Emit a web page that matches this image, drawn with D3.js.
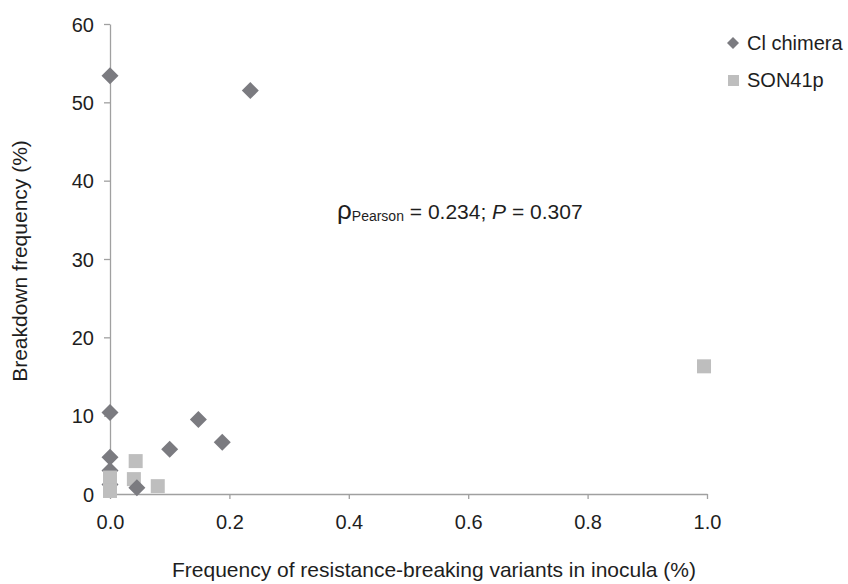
<!DOCTYPE html>
<html>
<head>
<meta charset="utf-8">
<script src="https://cdn.jsdelivr.net/npm/d3@7"></script>
<style>
  body { margin: 0; background: #fff; }
  svg { font-family: "Liberation Sans", Arial, sans-serif; }
</style>
</head>
<body>
<svg id="chart" width="848" height="584"></svg>
<script>
// values
const chimeraX = [0, 0.235, 0, 0, 0, 0, 0.045, 0.1, 0.148, 0.188];
const chimeraY = [53.4, 51.5, 10.4, 4.7, 3.0, 1.2, 0.8, 5.7, 9.5, 6.6];
const sonX = [0, 0, 0, 0.043, 0.04, 0.08, 0.995];
const sonY = [2.1, 1.2, 0.4, 4.2, 1.9, 1.0, 16.3];
const xTicks = [0, 0.2, 0.4, 0.6, 0.8, 1.0];
const yTicks = [0, 10, 20, 30, 40, 50, 60];

const margin = { top: 24, left: 110, right: 141, bottom: 90 };
const width = 848, height = 584;
const axisColor = '#a0a0a0';
const chimeraColor = '#7b7b80';
const sonColor = '#bebebe';
const textColor = '#1e1e1e';

const svg = d3.select('#chart');

const x = d3.scaleLinear().domain([0, 1]).range([margin.left, width - margin.right]);
const y = d3.scaleLinear().domain([0, 60]).range([height - margin.bottom, margin.top]);

const xAxis = svg.append('g')
  .attr('transform', `translate(0,${y(0)})`)
  .call(d3.axisBottom(x).tickValues(xTicks).tickFormat(d3.format('.1f')).tickSize(5).tickSizeOuter(0));
const yAxis = svg.append('g')
  .attr('transform', `translate(${x(0)},0)`)
  .call(d3.axisLeft(y).tickValues(yTicks).tickFormat(d3.format('d')).tickSize(6).tickSizeOuter(0));

[xAxis, yAxis].forEach((g) => {
  g.select('.domain').attr('stroke', axisColor).attr('stroke-width', 1.3);
  g.selectAll('.tick line').attr('stroke', axisColor).attr('stroke-width', 1.3);
  g.selectAll('.tick text').attr('fill', textColor).style('font-size', '20px');
});
xAxis.selectAll('.tick text').attr('y', 35).attr('dy', 0);
yAxis.selectAll('.tick text').attr('x', -16).attr('dy', '0.36em');

// axis titles
svg.append('text')
  .attr('x', 434).attr('y', 577)
  .attr('text-anchor', 'middle')
  .attr('fill', textColor)
  .style('font-size', '21px')
  .text('Frequency of resistance-breaking variants in inocula (%)');

svg.append('text')
  .attr('transform', 'translate(27,261) rotate(-90)')
  .attr('text-anchor', 'middle')
  .attr('fill', textColor)
  .style('font-size', '21px')
  .text('Breakdown frequency (%)');

// SON41p squares, drawn first
const sq = 14;
svg.append('g').selectAll('rect')
  .data(sonX.map((d, i) => [d, sonY[i]]))
  .join('rect')
  .attr('x', (d) => x(d[0]) - sq / 2)
  .attr('y', (d) => y(d[1]) - sq / 2)
  .attr('width', sq).attr('height', sq)
  .attr('fill', sonColor);

// Cl chimera diamonds
const dm = 8.5;
const diamond = `M0,${-dm}L${dm},0L0,${dm}L${-dm},0Z`;
svg.append('g').selectAll('path')
  .data(chimeraX.map((d, i) => [d, chimeraY[i]]))
  .join('path')
  .attr('transform', (d) => `translate(${x(d[0])},${y(d[1])})`)
  .attr('d', diamond)
  .attr('fill', chimeraColor);

// redraw the zero-x squares on top where they cover diamonds
svg.append('g').selectAll('rect')
  .data(sonX.map((d, i) => [d, sonY[i]]).filter((d) => d[0] === 0 && d[1] < 2.5))
  .join('rect')
  .attr('x', (d) => x(d[0]) - sq / 2)
  .attr('y', (d) => y(d[1]) - sq / 2)
  .attr('width', sq).attr('height', sq)
  .attr('fill', sonColor);

// correlation annotation
const note = svg.append('text')
  .attr('x', 337).attr('y', 219)
  .attr('fill', textColor)
  .style('font-size', '21px');
note.append('tspan').style('font-size', '26px').text('ρ');
note.append('tspan').style('font-size', '14px').attr('dy', 2).text('Pearson');
note.append('tspan').attr('dy', -2).text(' = 0.234; ');
note.append('tspan').style('font-style', 'italic').text('P');
note.append('tspan').text(' = 0.307');

// legend
const legend = svg.append('g').attr('transform', 'translate(733,43)');
legend.append('path').attr('d', 'M0,-6L6,0L0,6L-6,0Z').attr('fill', chimeraColor);
legend.append('text').attr('x', 14).attr('y', 7).attr('fill', textColor).style('font-size', '20px').text('Cl chimera');
legend.append('rect').attr('x', -5).attr('y', 32).attr('width', 11).attr('height', 11).attr('fill', sonColor);
legend.append('text').attr('x', 14).attr('y', 44).attr('fill', textColor).style('font-size', '20px').text('SON41p');
</script>
</body>
</html>
